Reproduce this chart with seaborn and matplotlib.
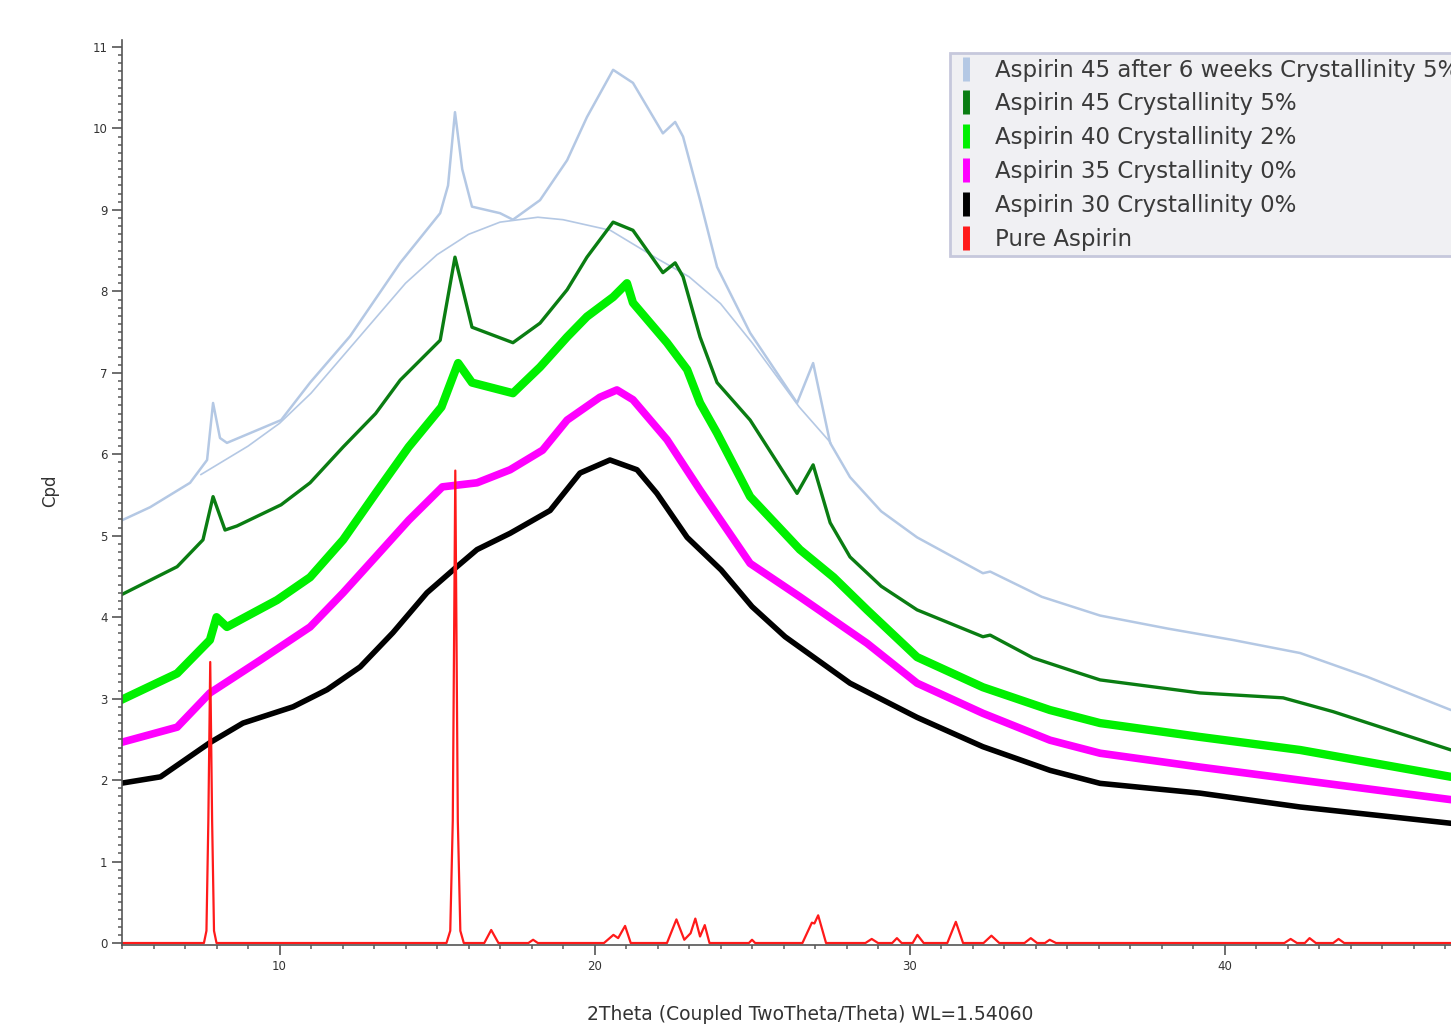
import matplotlib
matplotlib.use("Agg")
import matplotlib.pyplot as plt
from matplotlib.lines import Line2D
from matplotlib.ticker import MultipleLocator
import seaborn as sns

# --- data (2theta, counts) ---
wk6_x = [5.0, 5.89, 7.16, 7.70, 7.89, 8.11, 8.33, 10.05, 10.97, 12.24, 13.83, 15.10, 15.35, 15.57,
         15.80, 16.11, 17.0, 17.41, 18.27, 19.13, 19.76, 20.59, 21.22, 22.17, 22.56, 22.81, 23.35,
         23.89, 24.94, 26.43, 26.94, 27.48, 28.11, 29.1, 30.24, 32.33, 32.56, 34.2, 36.05, 38.2,
         40.27, 42.4, 44.52, 47.19]
wk6_y = [5.19, 5.35, 5.65, 5.93, 6.63, 6.20, 6.14, 6.42, 6.88, 7.45, 8.35, 8.96, 9.30, 10.20,
         9.50, 9.04, 8.96, 8.88, 9.12, 9.61, 10.14, 10.72, 10.56, 9.94, 10.08, 9.90, 9.12,
         8.30, 7.49, 6.63, 7.12, 6.14, 5.72, 5.30, 4.98, 4.54, 4.56, 4.25, 4.02, 3.86,
         3.72, 3.56, 3.27, 2.86]

# amorphous background fit drawn under the 6 week pattern
bkg_x = [7.5, 9.0, 10.0, 11.0, 12.0, 13.0, 14.0, 15.0, 16.0, 17.0, 18.2, 19.0, 20.5, 22.0, 23.0,
         24.0, 25.0, 26.5, 27.5]
bkg_y = [5.75, 6.10, 6.38, 6.75, 7.20, 7.65, 8.10, 8.45, 8.70, 8.85, 8.91, 8.88, 8.75, 8.40, 8.18,
         7.85, 7.37, 6.58, 6.14]

a45_x = [4.95, 6.75, 7.57, 7.89, 8.27, 8.65, 10.05, 10.97, 12.02, 13.05, 13.83, 15.1, 15.57, 16.11,
         17.41, 18.27, 19.13, 19.76, 20.59, 21.22, 22.17, 22.56, 22.81, 23.35, 23.89, 24.94, 26.43,
         26.94, 27.48, 28.11, 29.1, 30.24, 32.33, 32.56, 33.92, 35.41, 36.05, 39.22, 41.86, 43.45, 47.19]
a45_y = [4.27, 4.62, 4.95, 5.48, 5.07, 5.12, 5.38, 5.65, 6.09, 6.50, 6.91, 7.40, 8.42, 7.56,
         7.37, 7.61, 8.02, 8.42, 8.85, 8.75, 8.23, 8.35, 8.18, 7.44, 6.88, 6.42, 5.52,
         5.87, 5.16, 4.74, 4.38, 4.09, 3.76, 3.78, 3.50, 3.31, 3.23, 3.07, 3.01, 2.84, 2.37]

a40_x = [4.95, 6.75, 7.79, 8.0, 8.33, 9.92, 10.97, 12.02, 13.05, 14.1, 15.14, 15.67, 16.11, 17.41,
         18.27, 19.13, 19.76, 20.59, 21.03, 21.22, 22.3, 22.94, 23.35, 23.89, 24.94, 26.52, 27.59,
         28.65, 30.24, 32.33, 34.46, 36.05, 39.22, 42.4, 47.19]
a40_y = [2.98, 3.31, 3.72, 4.00, 3.88, 4.21, 4.49, 4.95, 5.52, 6.09, 6.58, 7.12, 6.88, 6.75,
         7.07, 7.44, 7.69, 7.93, 8.10, 7.86, 7.37, 7.04, 6.63, 6.26, 5.48, 4.83, 4.49,
         4.09, 3.51, 3.14, 2.86, 2.70, 2.53, 2.37, 2.04]

a35_x = [4.95, 6.75, 7.79, 9.38, 10.97, 12.02, 13.05, 14.1, 15.17, 16.27, 17.32, 18.35, 19.13, 20.17,
         20.71, 21.22, 22.3, 23.35, 24.94, 26.52, 28.65, 30.24, 32.33, 34.46, 36.05, 39.22, 42.4, 47.19]
a35_y = [2.46, 2.65, 3.07, 3.47, 3.88, 4.30, 4.74, 5.19, 5.60, 5.65, 5.81, 6.05, 6.42, 6.70,
         6.79, 6.67, 6.18, 5.56, 4.66, 4.25, 3.68, 3.19, 2.82, 2.49, 2.33, 2.16, 2.00, 1.76]

a30_x = [4.95, 6.22, 7.79, 8.84, 10.43, 11.51, 12.56, 13.6, 14.68, 15.63, 16.27, 17.32, 18.59, 19.54,
         20.49, 21.35, 21.98, 22.94, 24.02, 25.0, 26.05, 28.11, 30.24, 32.33, 34.46, 36.05, 39.22,
         42.4, 47.19]
a30_y = [1.96, 2.04, 2.46, 2.70, 2.90, 3.11, 3.39, 3.81, 4.30, 4.62, 4.83, 5.03, 5.31, 5.77,
         5.93, 5.81, 5.52, 4.98, 4.58, 4.13, 3.76, 3.19, 2.77, 2.41, 2.12, 1.96, 1.84,
         1.67, 1.47]

pure_x = [5.0, 7.6, 7.68, 7.74, 7.80, 7.86, 7.92, 8.0, 15.3, 15.42, 15.5, 15.58, 15.66, 15.74, 15.85,
          16.5, 16.72, 16.95, 17.9, 18.05, 18.2, 20.3, 20.6, 20.75, 20.97, 21.15, 22.3, 22.6, 22.85,
          23.05, 23.2, 23.35, 23.5, 23.65, 24.9, 25.0, 25.1, 26.6, 26.9, 26.98, 27.1, 27.35, 28.6,
          28.8, 29.0, 29.45, 29.6, 29.75, 30.1, 30.25, 30.45, 31.2, 31.47, 31.7, 32.35, 32.6, 32.85,
          33.65, 33.85, 34.05, 34.3, 34.45, 34.65, 41.9, 42.1, 42.3, 42.55, 42.7, 42.9, 43.45, 43.62,
          43.8, 47.2]
pure_y = [0.0, 0.0, 0.15, 1.5, 3.45, 1.5, 0.15, 0.0, 0.0, 0.15, 1.5, 5.8, 1.5, 0.15, 0.0,
          0.0, 0.16, 0.0, 0.0, 0.04, 0.0, 0.0, 0.10, 0.06, 0.21, 0.0, 0.0, 0.29, 0.04,
          0.12, 0.30, 0.08, 0.22, 0.0, 0.0, 0.04, 0.0, 0.0, 0.25, 0.24, 0.34, 0.0, 0.0,
          0.05, 0.0, 0.0, 0.06, 0.0, 0.0, 0.10, 0.0, 0.0, 0.26, 0.0, 0.0, 0.09, 0.0,
          0.0, 0.06, 0.0, 0.0, 0.04, 0.0, 0.0, 0.05, 0.0, 0.0, 0.06, 0.0, 0.0, 0.05,
          0.0, 0.0]

labels = ["Aspirin 45 after 6 weeks Crystallinity 5%", "Aspirin 45 Crystallinity 5%",
          "Aspirin 40 Crystallinity 2%", "Aspirin 35 Crystallinity 0%",
          "Aspirin 30 Crystallinity 0%", "Pure Aspirin"]
colors = ["#b4c8e4", "#0a7d12", "#00f000", "#ff00ff", "#000000", "#ff1a1a"]

sns.set_theme(style="white")
plt.rcParams['font.family'] = ['DejaVu Sans']

fig = plt.figure(figsize=(14.51, 10.25), dpi=100)
ax = fig.add_axes([0.0841, 0.0776, 0.9159, 0.8829])

# background arc first, then patterns from top to bottom, red on top
sns.lineplot(x=bkg_x, y=bkg_y, ax=ax, color=colors[0], linewidth=1.2, estimator=None, sort=False)
series = [(wk6_x, wk6_y, 1.8), (a45_x, a45_y, 2.4), (a40_x, a40_y, 6.0),
          (a35_x, a35_y, 5.5), (a30_x, a30_y, 4.0), (pure_x, pure_y, 1.6)]
for (xs, ys, lw), c in zip(series, colors):
    sns.lineplot(x=xs, y=ys, ax=ax, color=c, linewidth=lw, estimator=None, sort=False)

ax.set_xlim(5, 47.19)
ax.set_ylim(-0.03, 11.08)

ax.xaxis.set_major_locator(MultipleLocator(10))
ax.xaxis.set_minor_locator(MultipleLocator(1))
ax.yaxis.set_major_locator(MultipleLocator(1))
ax.yaxis.set_minor_locator(MultipleLocator(0.1))
ax.tick_params(which='major', direction='out', length=7, width=1.2, color='#555555',
               labelsize=8.5, labelcolor='#333333', left=True, bottom=True)
ax.tick_params(which='minor', direction='out', length=3, width=1.2, color='#666666',
               left=True, bottom=True)

for side in ['top', 'right']:
    ax.spines[side].set_visible(False)
for side in ['left', 'bottom']:
    ax.spines[side].set_color('#555555')
    ax.spines[side].set_linewidth(1.2)

ax.set_xlabel("2Theta (Coupled TwoTheta/Theta) WL=1.54060", fontsize=13.5, color='#333333')
ax.set_ylabel("Cpd", fontsize=12, color='#333333')
ax.xaxis.set_label_coords(0.518, -0.066)
ax.yaxis.set_label_coords(-0.047, 0.503)

# legend runs off the right edge like the original export
handles = [Line2D([0], [0], color=c, marker='|', linestyle='none', markersize=17,
                  markeredgewidth=5) for c in colors]
leg = ax.legend(handles, labels, loc='upper left', bbox_to_anchor=(0.6547, 0.9483),
                bbox_transform=fig.transFigure, fontsize=16.5, frameon=True, fancybox=False,
                framealpha=1, borderpad=0.25, labelspacing=0.47, handlelength=0.9,
                handletextpad=0.8, borderaxespad=0)
leg.get_frame().set_facecolor('#f0f0f3')
leg.get_frame().set_edgecolor('#c6c8dc')
leg.get_frame().set_linewidth(2)
for t in leg.get_texts():
    t.set_color('#3a3a3a')

fig.savefig("out.png", dpi=100)
